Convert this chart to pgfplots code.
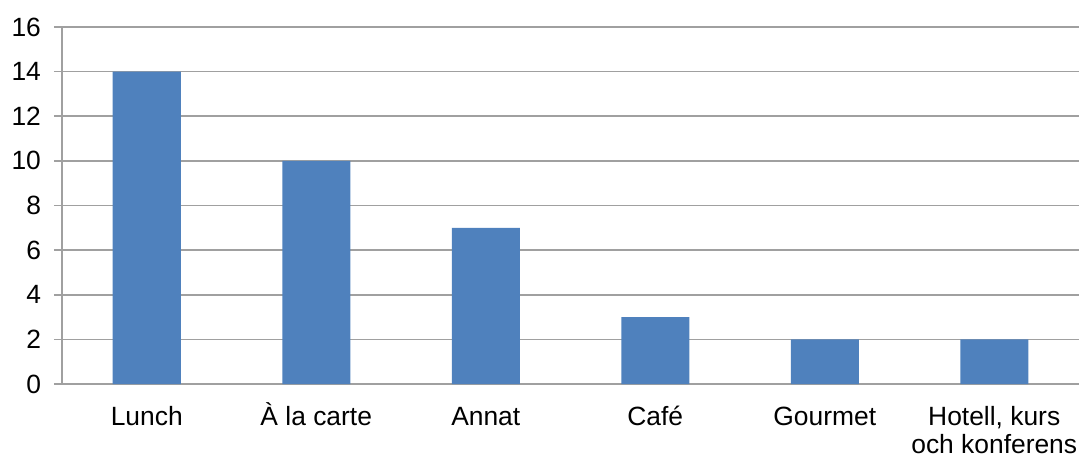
\documentclass[border=0pt]{standalone}
\usepackage{fontspec}
\setmainfont{Liberation Sans}
\usepackage{pgfplots}
\pgfplotsset{compat=1.18}
\definecolor{barblue}{HTML}{4F81BD}
\definecolor{gridgray}{HTML}{A0A0A0}
\begin{document}
\begin{tikzpicture}
\begin{axis}[
  scale only axis,
  width=508.5pt, height=178.5pt,
  xmin=-0.5, xmax=5.5, ymin=0, ymax=16,
  ytick={0,2,...,16},
  xtick={0,1,2,3,4,5},
  xticklabels={\vphantom{À}Lunch,\vphantom{À}À la carte,\vphantom{À}Annat,\vphantom{À}Café,\vphantom{À}Gourmet,{\vphantom{À}Hotell, kurs\\och konferens}},
  xticklabel style={align=center, font=\fontsize{13.2}{13.8}\selectfont, yshift=-2pt},
  yticklabel style={font=\fontsize{13.2}{14}\selectfont, xshift=-3pt},
  /pgf/number format/assume math mode=true,
  axis x line*=bottom, axis y line*=left,
  axis line style={gridgray, line width=0.8pt, -},
  ymajorgrids, grid style={gridgray, line width=0.8pt},
  major x tick style={draw=none},
  major y tick style={gridgray, line width=0.8pt},
  tick align=outside, major tick length=4pt,
  extra x ticks={-0.5,0.5,1.5,2.5,3.5,4.5,5.5},
  extra x tick labels={},
  extra x tick style={major tick length=4pt, tick style={gridgray, line width=0.8pt}, grid=none},
  ybar, bar width=34pt,
  clip=false,
]
\addplot[fill=barblue, draw=none] coordinates {(0,14) (1,10) (2,7) (3,3) (4,2) (5,2)};
\coordinate (o) at (rel axis cs:0,0);
\end{axis}
\pgfresetboundingbox
\path[use as bounding box] (o) ++(-31pt,-36pt) rectangle ++(540pt,228pt);
\end{tikzpicture}
\end{document}
